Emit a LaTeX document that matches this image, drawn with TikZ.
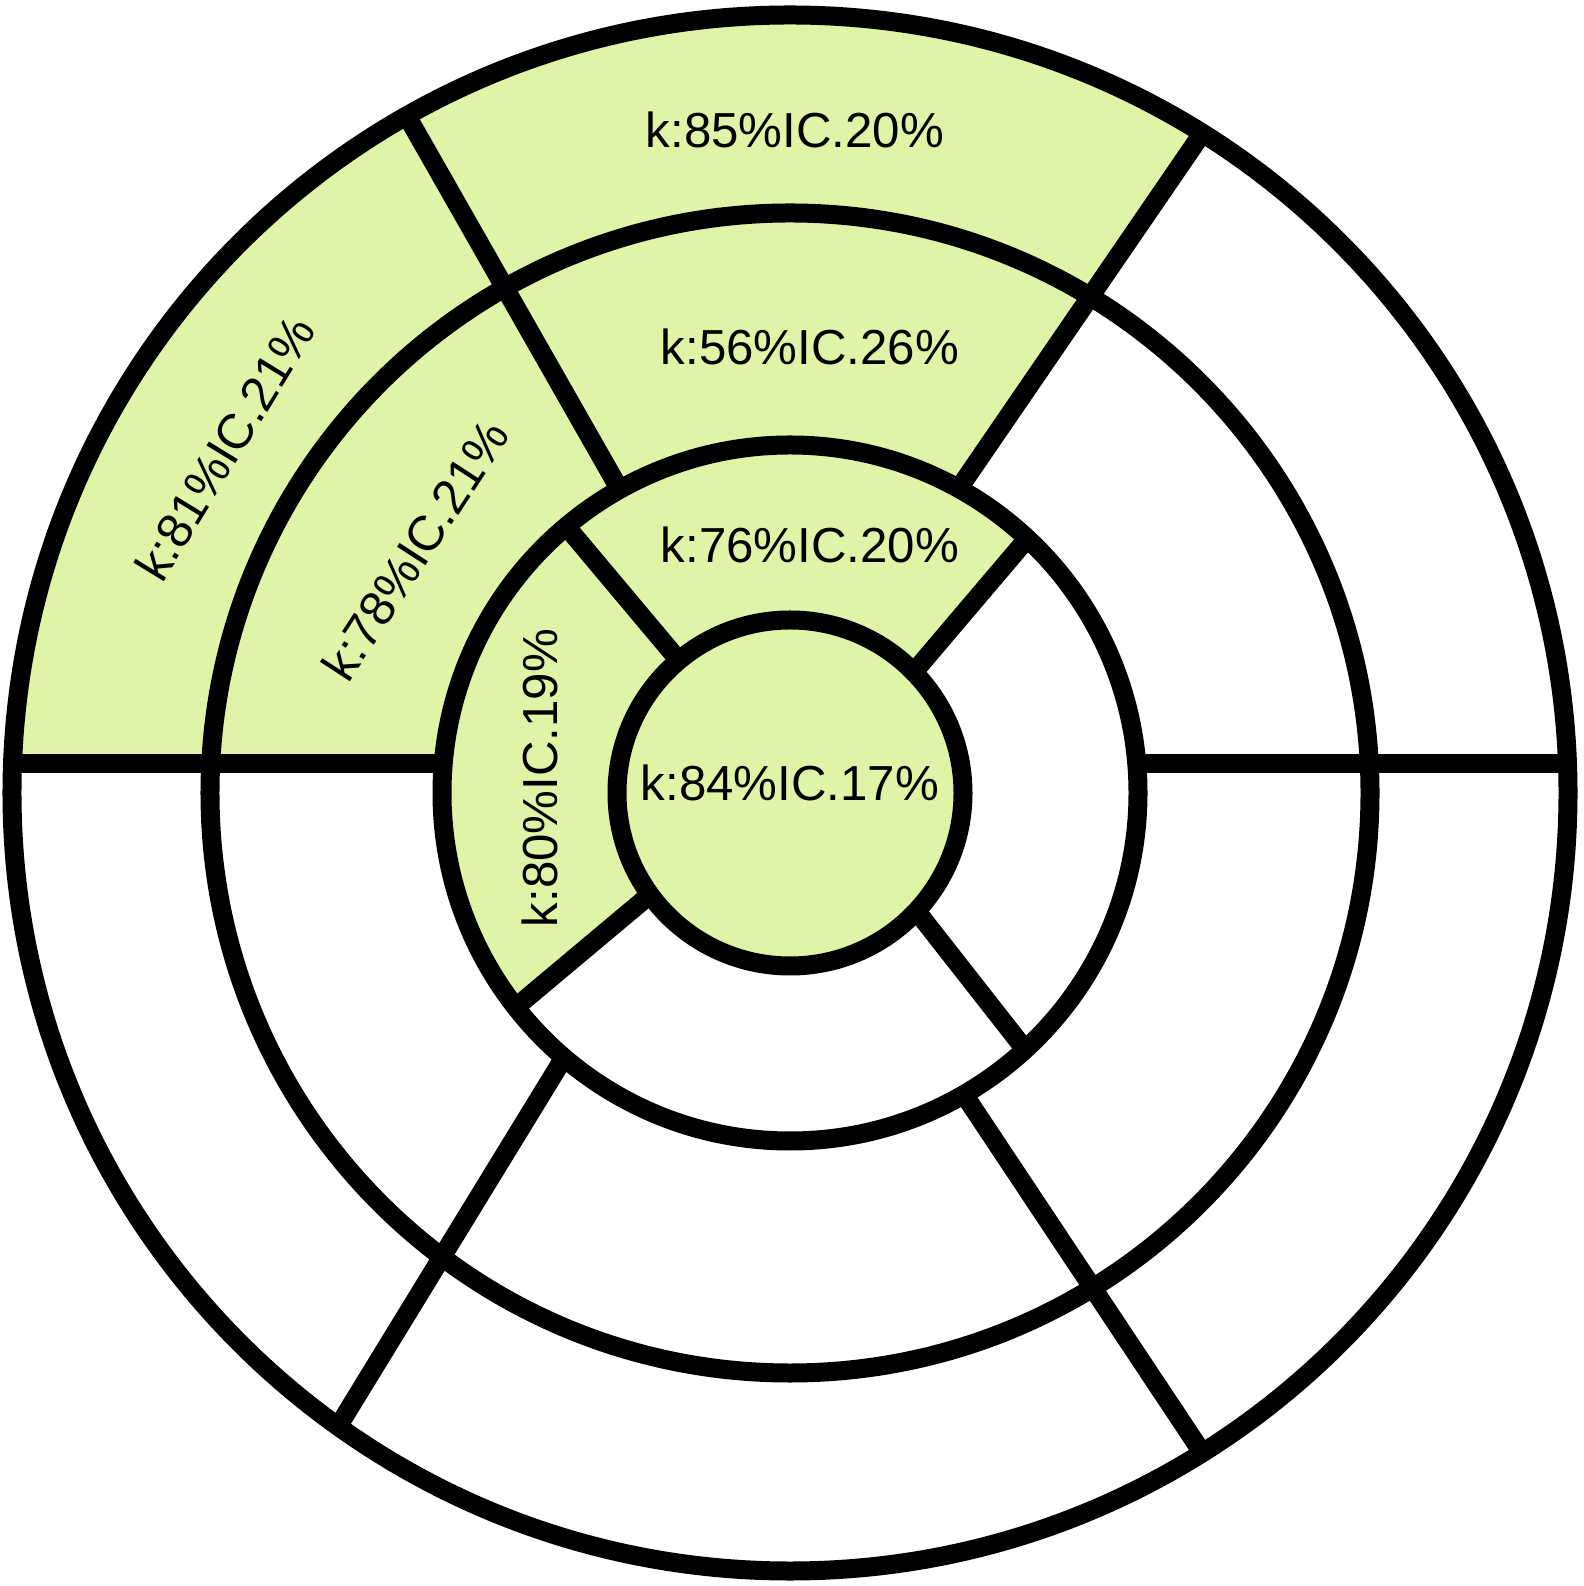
\documentclass[tikz,border=0pt]{standalone}
\usepackage{fontspec}
\setmainfont{Liberation Sans}
\definecolor{segGreen}{RGB}{224,244,168}
\begin{document}
\begin{tikzpicture}[
  ring/.style={line width=0.19cm},
  hit/.style={fill=segGreen},
  val/.style={font=\fontsize{14}{16}\selectfont, inner sep=0pt}]
  \useasboundingbox (-7.90,-7.93) rectangle (7.93,7.93);
  % green segments
  \fill[hit] (61:3.48) -- (58:7.78) arc[start angle=58, end angle=177.86, radius=7.78]
    -- (175.22:3.48) arc[start angle=175.22, end angle=61, radius=3.48] -- cycle;
  \fill[hit] (44.3:1.73) -- (47:3.48) arc[start angle=47, end angle=218, radius=3.48]
    -- (216:1.73) arc[start angle=216, end angle=44.3, radius=1.73] -- cycle;
  \fill[hit] (0,0) circle(1.73);
  % rings
  \draw[ring] (0,0) circle(1.73);
  \draw[ring] (0,0) circle(3.48);
  \draw[ring] (0,0) circle(5.80);
  \draw[ring] (0,0) circle(7.78);
  % dividers, basal and mid
  \draw[ring] (-7.77,0.29) -- (-3.47,0.29);
  \draw[ring] (3.47,0.29) -- (7.77,0.29);
  \draw[ring] (119.3:3.48) -- (119.5:7.78);
  \draw[ring] (61:3.48) -- (58:7.78);
  \draw[ring] (229.5:3.48) -- (234.5:7.78);
  \draw[ring] (300:3.48) -- (302:7.78);
  % dividers, apical
  \draw[ring] (130:1.73) -- (130:3.48);
  \draw[ring] (44.3:1.73) -- (47:3.48);
  \draw[ring] (216:1.73) -- (218:3.48);
  \draw[ring] (317:1.73) -- (312.5:3.48);
  % values
  \node[val] (basAnt) at (0.05,6.63) {k:85\%IC.20\%};
  \node[val] (midAnt) at (0.2,4.46) {k:56\%IC.26\%};
  \node[val] (apAnt) at (0.2,2.48) {k:76\%IC.20\%};
  \node[val] (apex) at (0,0.10) {k:84\%IC.17\%};
  \node[val, rotate=90] (apSep) at (-2.50,0.15) {k:80\%IC.19\%};
  \node[val, rotate=57] (midAntSep) at (-3.75,2.43) {k:78\%IC.21\%};
  \node[val, rotate=58.5] (basAntSep) at (-5.65,3.45) {k:81\%IC.21\%};
\end{tikzpicture}
\end{document}
